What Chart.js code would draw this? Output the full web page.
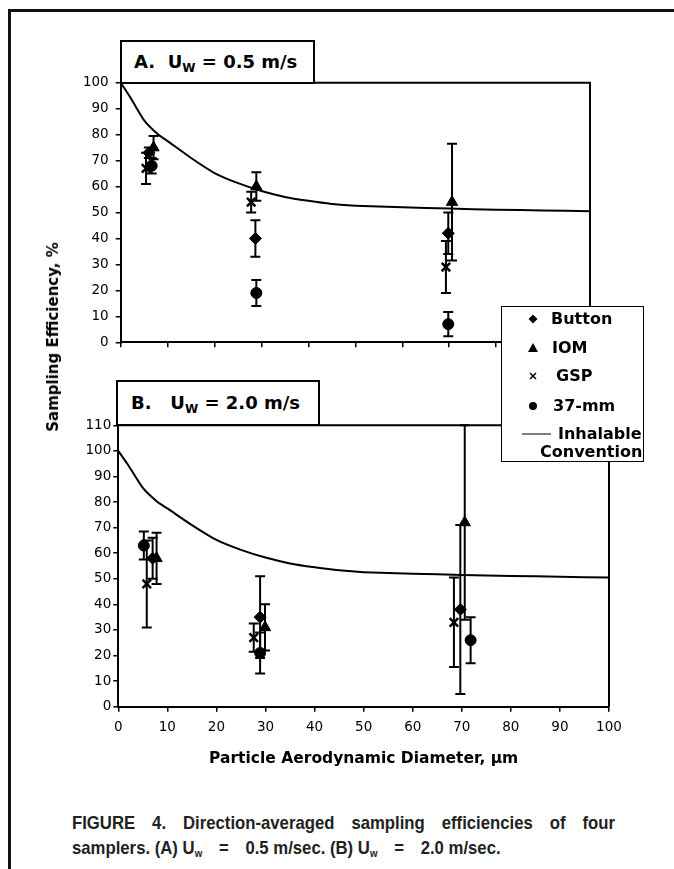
<!DOCTYPE html>
<html>
<head>
<meta charset="utf-8">
<script src="https://cdn.jsdelivr.net/npm/chart.js@4.4.0/dist/chart.umd.min.js"></script>
<style>
  body { margin: 0; background: #fff; width: 674px; height: 869px; position: relative; overflow: hidden; font-family: "DejaVu Sans", sans-serif; color: #000; }
  .abs { position: absolute; }
  #frame { left: 8px; top: 9px; width: 700px; height: 900px; border-top: 3px solid #111; border-left: 3px solid #111; }
  .tag { background: #fff; border: 2px solid #000; box-sizing: border-box; font-weight: bold; font-size: 18px; white-space: pre; }
  .tag sub { font-size: 12px; vertical-align: -4px; line-height: 0; }
  #legend { left: 501px; top: 306px; width: 143px; height: 156px; background: #fff; border: 1.5px solid #000; box-sizing: border-box; }
  #legend div { position: absolute; font-weight: bold; font-size: 16px; line-height: 18px; white-space: nowrap; }
  #ytitle { left: 53px; top: 337px; font-weight: bold; font-size: 15px; white-space: nowrap; transform: translate(-50%, -50%) rotate(-90deg); }
  .cap { left: 72px; font-family: "Liberation Sans", Arial, sans-serif; font-weight: bold; font-size: 19px; color: #222; white-space: nowrap; transform: scaleX(0.88); transform-origin: 0 0; }
  .cap sub { font-size: 11px; vertical-align: -3px; line-height: 0; }
</style>
</head>
<body>
<div id="frame" class="abs"></div>
<canvas id="panelA" class="abs" style="left:0;top:0" width="674" height="360"></canvas>
<canvas id="panelB" class="abs" style="left:0;top:370px" width="674" height="430"></canvas>

<div class="abs tag" style="left:120px;top:40px;width:195px;height:44px;line-height:40px;padding-left:12px">A.  U<sub>W</sub> = 0.5 m/s</div>
<div class="abs tag" style="left:116px;top:380px;width:204px;height:46px;line-height:42px;padding-left:13px">B.   U<sub>W</sub> = 2.0 m/s</div>

<div id="legend" class="abs">
  <canvas id="legendMarks" width="140" height="150" style="position:absolute;left:0;top:0"></canvas>
  <div style="left:49px;top:3px">Button</div>
  <div style="left:50px;top:32px">IOM</div>
  <div style="left:54px;top:60px">GSP</div>
  <div style="left:51px;top:90px">37-mm</div>
  <div style="left:56px;top:118px">Inhalable</div>
  <div style="left:38px;top:136px">Convention</div>
</div>

<div id="ytitle" class="abs">Sampling Efficiency, %</div>

<div class="abs cap" style="top:812px;width:617px;text-align:justify;text-align-last:justify">FIGURE 4. Direction-averaged sampling efficiencies of four</div>
<div class="abs cap" style="top:837px">samplers. (A) U<sub>w</sub>&ensp;&ensp;=&ensp;&ensp;0.5 m/sec. (B) U<sub>w</sub>&ensp;&ensp;=&ensp;&ensp;2.0 m/sec.</div>

<script>
// inhalable convention curve
const convD = [0, 2, 5, 8, 10, 15, 20, 25, 30, 35, 40, 45, 50, 60, 70, 80, 90, 100];
const convE = [100, 94.5, 85.5, 80, 77.5, 71, 65.2, 61.3, 58.3, 56, 54.5, 53.3, 52.6, 52, 51.5, 51.1, 50.8, 50.5];

// panel A, Uw = 0.5 m/s  (x = diameter, y = efficiency, err = +/-)
const aButtonX = [6, 28.7, 69.8],  aButtonY = [73, 40, 42],  aButtonErr = [2, 7, 8];
const aIomX    = [7, 28.9, 70.6],  aIomY    = [75, 60, 54],  aIomErr    = [4.5, 5.5, 22.5];
const aGspX    = [5.4, 27.8, 69.3], aGspY   = [67, 54, 29],  aGspErr    = [6, 4, 10];
const a37X     = [6.6, 28.9, 69.8], a37Y    = [68, 19, 7],   a37Err     = [3, 5, 4.7];

// panel B, Uw = 2.0 m/s
const bButtonX = [7, 28.9, 69.7],  bButtonY = [58, 35, 38],  bButtonErr = [8, 16, 33];
const bIomX    = [7.8, 29.9, 70.6], bIomY   = [58, 31, 72],  bIomErr    = [10, 9, 38];
const bGspX    = [5.8, 27.6, 68.4], bGspY   = [48, 27, 33],  bGspErr    = [17, 5.5, 17.5];
const b37X     = [5.2, 28.9, 71.8], b37Y    = [63, 21, 26],  b37Err     = [5.5, 8, 9];

function pts(xs, ys) {
    return xs.map((x, i) => ({ x: x, y: ys[i] }));
}

// error bars drawn under the markers
const errorBars = {
    id: 'errorBars',
    beforeDatasetsDraw(chart) {
        const { ctx, scales: { x, y } } = chart;
        ctx.save();
        ctx.strokeStyle = '#000';
        ctx.lineWidth = 2;
        chart.data.datasets.forEach(ds => {
            if (!ds.err) return;
            ds.data.forEach((p, i) => {
                const px = x.getPixelForValue(p.x);
                const top = y.getPixelForValue(p.y + ds.err[i]);
                const bot = y.getPixelForValue(p.y - ds.err[i]);
                ctx.beginPath();
                ctx.moveTo(px, top); ctx.lineTo(px, bot);
                ctx.moveTo(px - 5, top); ctx.lineTo(px + 5, top);
                ctx.moveTo(px - 5, bot); ctx.lineTo(px + 5, bot);
                ctx.stroke();
            });
        });
        ctx.restore();
    }
};

// top and right edges of the plot box
const boxLines = {
    id: 'boxLines',
    afterDraw(chart) {
        const { ctx, chartArea: a } = chart;
        ctx.save();
        ctx.strokeStyle = '#000';
        ctx.lineWidth = 2;
        ctx.beginPath();
        ctx.moveTo(a.left, a.top);
        ctx.lineTo(a.right, a.top);
        ctx.lineTo(a.right, a.bottom);
        ctx.stroke();
        ctx.restore();
    }
};

function samplerSets(bx, by, be, ix, iy, ie, gx, gy, ge, cx, cy, ce) {
    return [
        { type: 'line', data: pts(convD, convE), borderColor: '#000', borderWidth: 2, pointRadius: 0, tension: 0.2 },
        { data: pts(bx, by), err: be, pointStyle: 'rectRot', pointRadius: 6, backgroundColor: '#000', borderColor: '#000' },
        { data: pts(ix, iy), err: ie, pointStyle: 'triangle', pointRadius: 6.5, backgroundColor: '#000', borderColor: '#000' },
        { data: pts(gx, gy), err: ge, pointStyle: 'crossRot', pointRadius: 6, borderWidth: 2.5, borderColor: '#000' },
        { data: pts(cx, cy), err: ce, pointStyle: 'circle', pointRadius: 5.5, backgroundColor: '#000', borderColor: '#000' }
    ];
}

function makePanel(id, datasets, o) {
    const tickFont = { family: 'DejaVu Sans', size: 13.5 };
    return new Chart(document.getElementById(id), {
        type: 'scatter',
        data: { datasets: datasets },
        options: {
            responsive: false,
            animation: false,
            layout: { padding: { left: 0, top: o.padTop, right: o.padRight, bottom: 0 } },
            plugins: { legend: { display: false }, tooltip: { enabled: false } },
            scales: {
                x: {
                    type: 'linear', min: 0, max: 100,
                    border: { color: '#000', width: 2 },
                    grid: { drawOnChartArea: false, color: '#000', lineWidth: 1.5, tickLength: 5 },
                    ticks: { display: o.xLabels, stepSize: 10, color: '#000', font: tickFont, padding: 8, maxRotation: 0 },
                    title: {
                        display: o.xLabels,
                        text: 'Particle Aerodynamic Diameter, \u00b5m',
                        color: '#000',
                        font: { family: 'DejaVu Sans', size: 15.5, weight: 'bold' },
                        padding: { top: 0, bottom: 32 }
                    },
                    afterFit(s) { s.height = o.xHeight; }
                },
                y: {
                    min: 0, max: o.yMax,
                    border: { color: '#000', width: 2 },
                    grid: { drawOnChartArea: false, color: '#000', lineWidth: 1.5, tickLength: 5 },
                    ticks: { stepSize: 10, color: '#000', font: tickFont, padding: o.yPad },
                    afterFit(s) { s.width = o.yWidth; }
                }
            }
        },
        plugins: [errorBars, boxLines]
    });
}

makePanel('panelA',
    samplerSets(aButtonX, aButtonY, aButtonErr, aIomX, aIomY, aIomErr, aGspX, aGspY, aGspErr, a37X, a37Y, a37Err),
    { padTop: 82.7, padRight: 84, xHeight: 17.7, yWidth: 120.7, yMax: 100, yPad: 7, xLabels: false });

makePanel('panelB',
    samplerSets(bButtonX, bButtonY, bButtonErr, bIomX, bIomY, bIomErr, bGspX, bGspY, bGspErr, b37X, b37Y, b37Err),
    { padTop: 55.3, padRight: 65, xHeight: 93.3, yWidth: 118.3, yMax: 110, yPad: 2, xLabels: true });

// legend symbols
const lg = document.getElementById('legendMarks').getContext('2d');
lg.fillStyle = '#000';
lg.strokeStyle = '#000';
lg.beginPath(); lg.moveTo(31, 7.5); lg.lineTo(35.5, 12); lg.lineTo(31, 16.5); lg.lineTo(26.5, 12); lg.closePath(); lg.fill();
lg.beginPath(); lg.moveTo(31, 36); lg.lineTo(36, 45); lg.lineTo(26, 45); lg.closePath(); lg.fill();
lg.lineWidth = 1.5;
lg.beginPath(); lg.moveTo(28, 66); lg.lineTo(34, 72); lg.moveTo(34, 66); lg.lineTo(28, 72); lg.stroke();
lg.beginPath(); lg.arc(31, 99, 4, 0, Math.PI * 2); lg.fill();
lg.lineWidth = 1;
lg.beginPath(); lg.moveTo(20, 127); lg.lineTo(49, 127); lg.stroke();
</script>
</body>
</html>
